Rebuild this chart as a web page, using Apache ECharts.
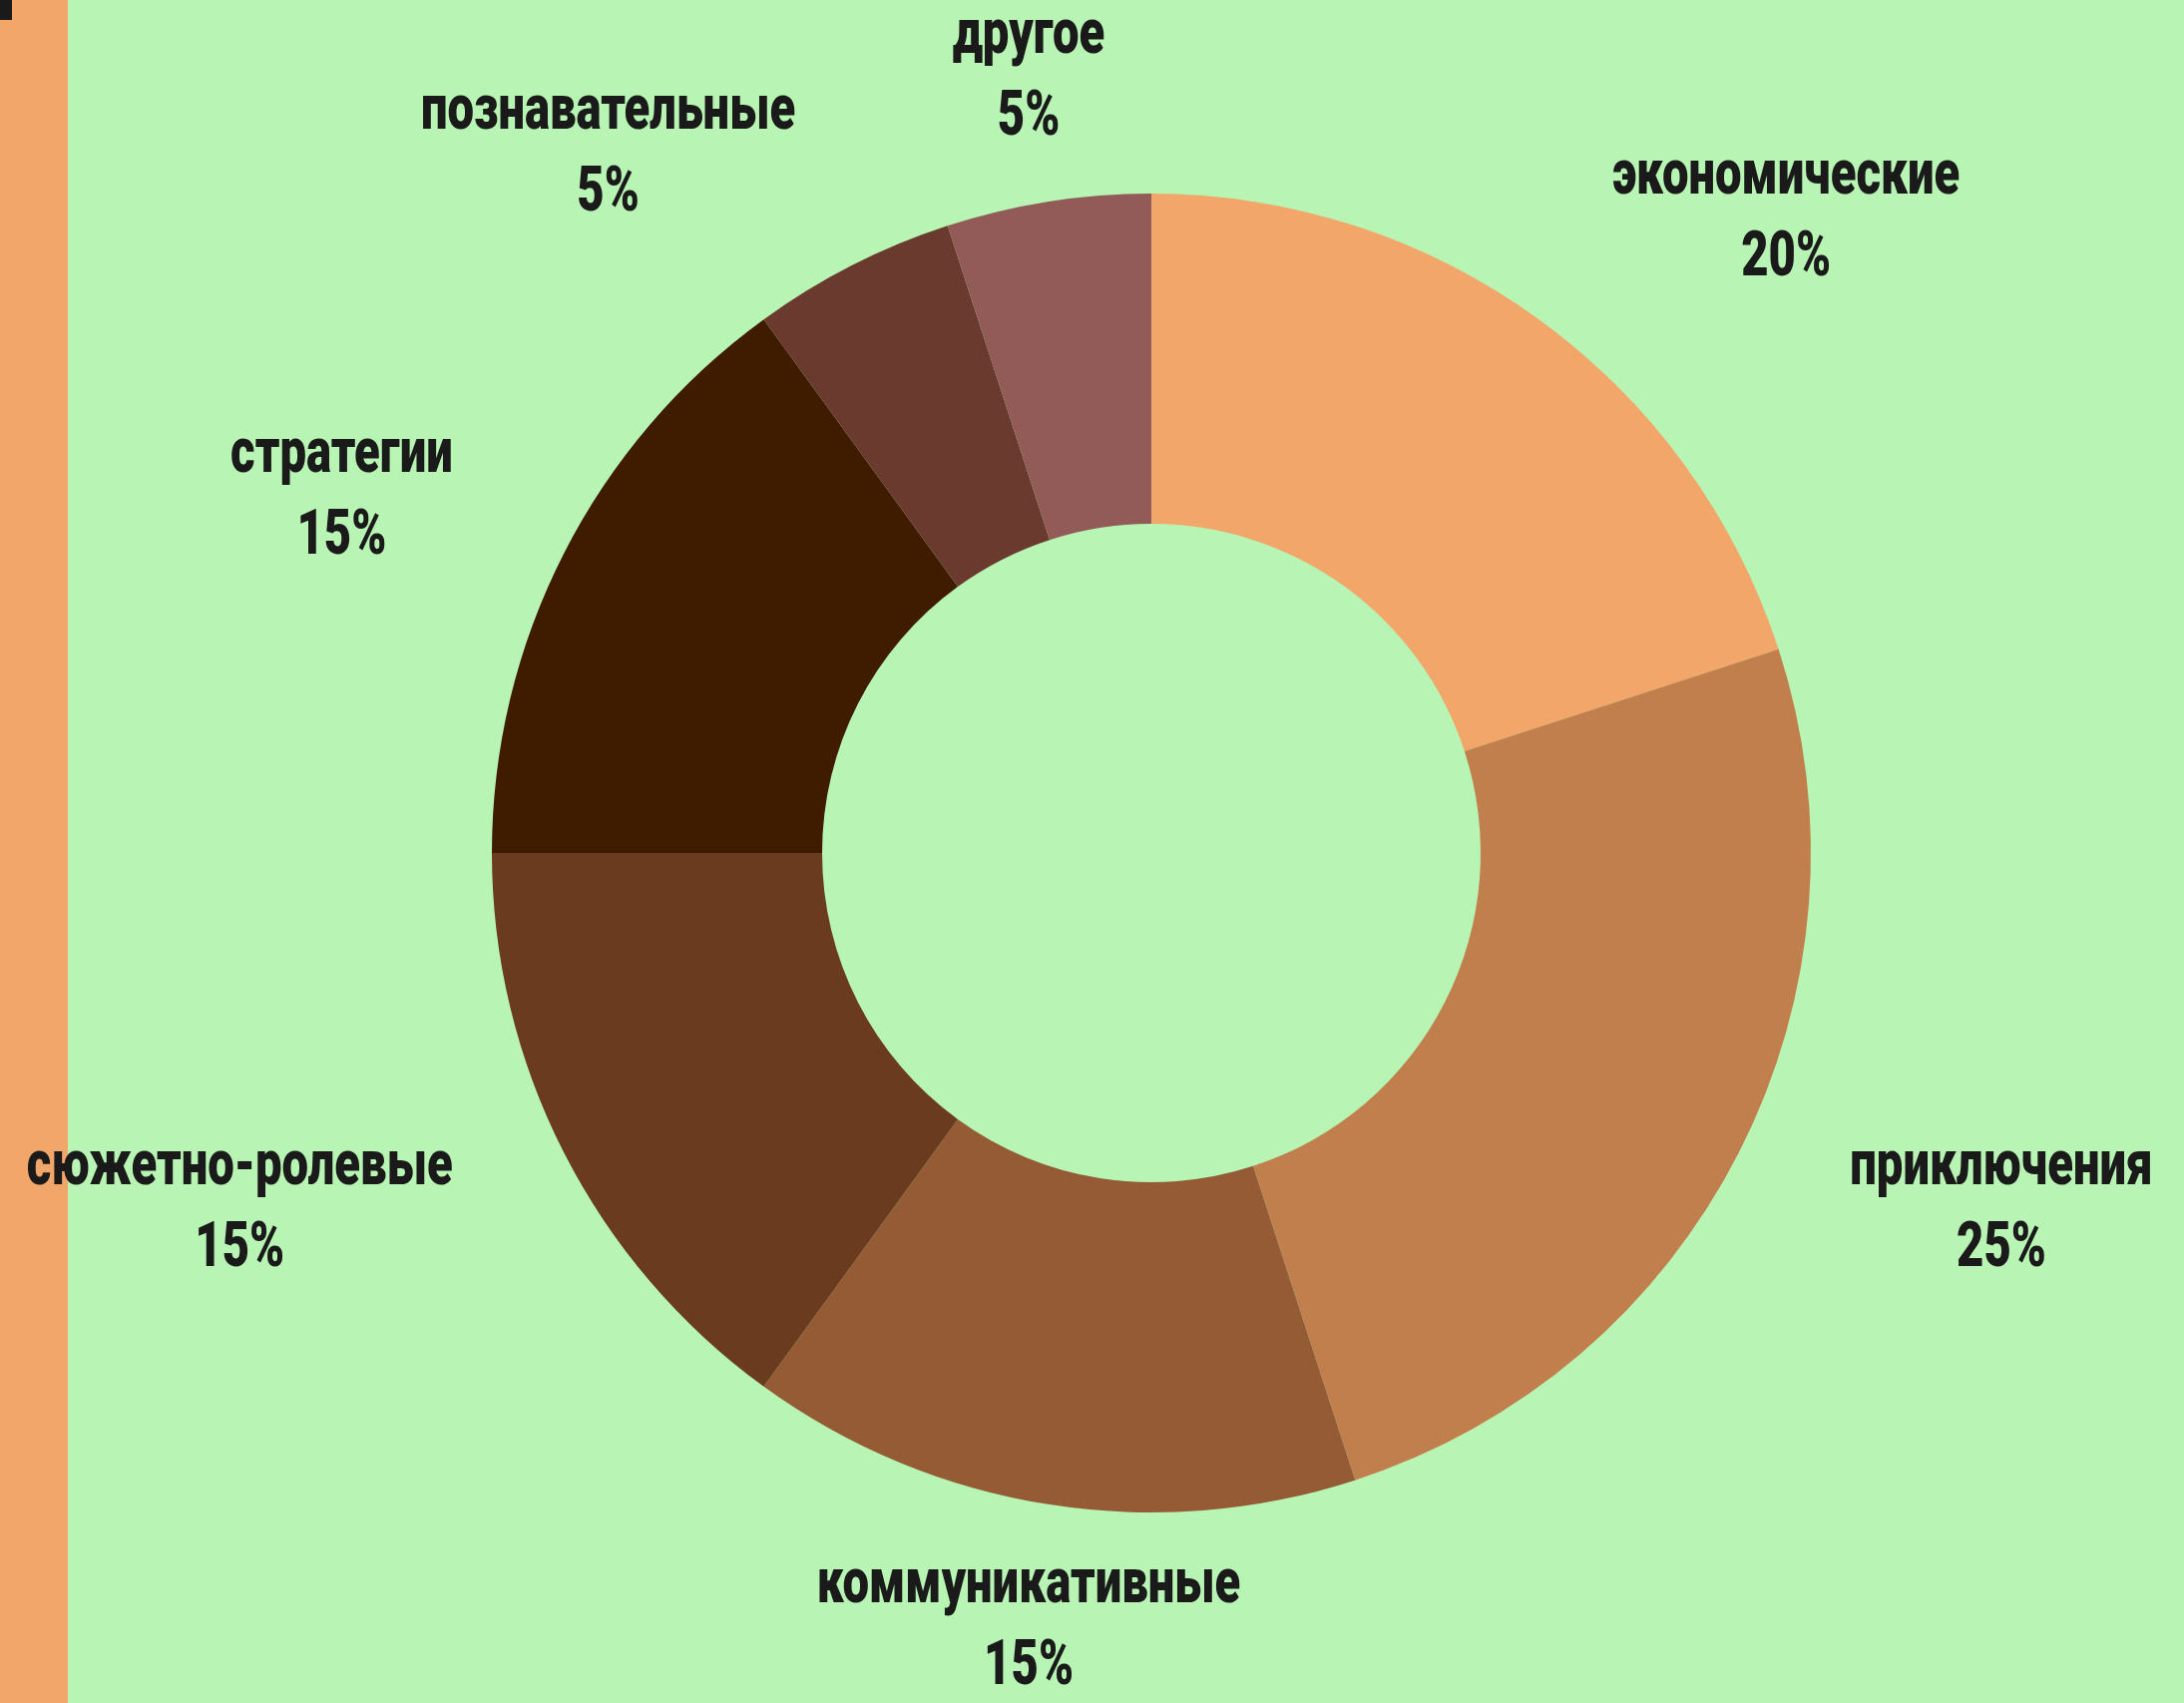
<!DOCTYPE html>
<html>
<head>
<meta charset="utf-8">
<script src="https://cdn.jsdelivr.net/npm/echarts@6/dist/echarts.min.js"></script>
<style>
html,body{margin:0;padding:0;background:#b8f5b4;}
#c{width:2189px;height:1707px;}
</style>
</head>
<body>
<div id="c"></div>
<script>
// Data
const categories = ['экономические', 'приключения', 'коммуникативные', 'сюжетно-ролевые', 'стратегии', 'познавательные', 'другое'];
const values = [20, 25, 15, 15, 15, 5, 5];
const colors = ['#f3a66a', '#c27f4e', '#945b34', '#6a3b1f', '#3f1c00', '#6a3a2e', '#935b58'];

// Layout
const CX = 1154, CY = 855, R0 = 330, R1 = 661, LEN = 125, START = 90;
const SX = 0.75; // horizontal squeeze to imitate a condensed typeface
const total = values.reduce((a, b) => a + b, 0);

const chart = echarts.init(document.getElementById('c'), null, {renderer: 'canvas'});

function labelPos(params) {
  const i = params.dataIndex;
  let acc = 0;
  for (let k = 0; k < i; k++) acc += values[k];
  const a = (START - (acc + values[i] / 2) / total * 360) * Math.PI / 180;
  const vx = Math.cos(a), vy = -Math.sin(a);
  const px = CX + (R1 + LEN) * vx, py = CY + (R1 + LEN) * vy;
  const w = params.labelRect.width * SX;
  let x = px;
  if (Math.abs(vx) >= 0.3) x = px + (vx > 0 ? 1 : -1) * w / 2;
  return {x: x, y: py, align: 'center', verticalAlign: 'middle'};
}

chart.setOption({
  backgroundColor: '#b8f5b4',
  animation: false,
  graphic: [
    {type: 'rect', z: 0, shape: {x: 0, y: 0, width: 68, height: 1707}, style: {fill: '#f3a66a'}},
    {type: 'rect', z: 1, shape: {x: 0, y: 0, width: 12, height: 20}, style: {fill: '#1a1a1a'}}
  ],
  series: [{
    type: 'pie',
    z: 2,
    center: [CX, CY],
    radius: [R0, R1],
    startAngle: START,
    clockwise: true,
    avoidLabelOverlap: false,
    emphasis: {disabled: true},
    label: {
      show: true,
      position: 'outside',
      formatter: p => p.name + '\n' + Math.round(p.percent) + '%',
      fontFamily: 'Roboto, "Noto Sans", sans-serif',
      fontWeight: 900,
      fontSize: 63,
      lineHeight: 82,
      color: '#1a1a1a',
      align: 'center'
    },
    labelLine: {show: false},
    labelLayout: labelPos,
    data: categories.map((c, i) => ({name: c, value: values[i], itemStyle: {color: colors[i]}}))
  }]
});

// squeeze the pie labels horizontally (about their anchor point)
(function squeeze() {
  try {
    const data = chart.getModel().getSeriesByIndex(0).getData();
    for (let i = 0; i < data.count(); i++) {
      const el = data.getItemGraphicEl(i);
      const t = el && el.getTextContent && el.getTextContent();
      if (t) { t.scaleX = SX; t.markRedraw(); }
    }
  } catch (e) {}
  chart.getZr().refreshImmediately();
})();
</script>
</body>
</html>
